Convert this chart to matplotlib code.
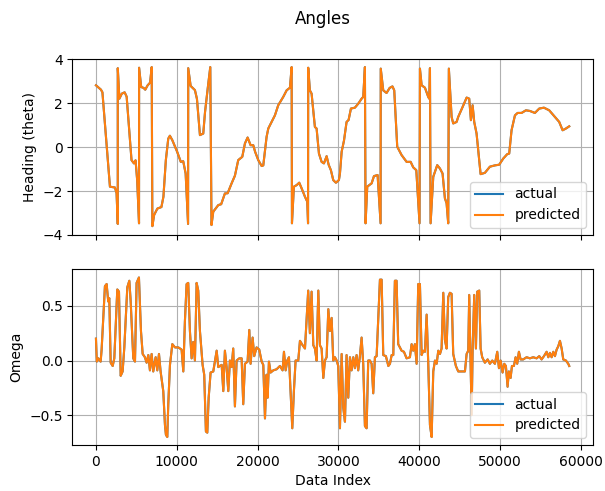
import matplotlib
matplotlib.use('Agg')
import matplotlib.pyplot as plt
import numpy as np

# heading (theta), data index -> radians
heading_idx = [0, 300, 620, 800, 1730, 2350, 2550, 2700, 2700, 2900, 3200, 3550, 3800,
               4400, 4700, 4900, 5100, 5330, 5340, 5600, 5900, 6100, 6400, 6700, 6900,
               6980, 7200, 7600, 8100, 8350, 8650, 8950, 9150, 9450, 10050, 10500, 10800,
               11100, 11400, 11420, 11720, 12250, 12500, 12870, 13280, 13500, 13900, 14150,
               14300, 14520, 15140, 15500, 15960, 16300, 16790, 17200, 17610, 18110, 18440,
               18770, 19140, 19470, 19700, 20090, 20510, 20710, 21120, 21330, 21740, 22150,
               22560, 23180, 23600, 24010, 24220, 24260, 24500, 24840, 25160, 25460, 25870,
               26150, 26250, 26270, 26480, 26690, 27100, 27310, 27600, 27930, 28220, 28550,
               28800, 29080, 29370, 29700, 30070, 30200, 30410, 30700, 31020, 31270, 31560,
               32050, 32460, 32880, 33080, 33290, 33370, 33580, 34120, 34410, 34860, 35230,
               35250, 35560, 35970, 36350, 36700, 36920, 37290, 37830, 38450, 38950, 39270,
               39650, 40050, 40100, 40310, 40720, 41130, 41250, 41340, 41420, 41750, 42240,
               42570, 42900, 43190, 43400, 43600, 43680, 44020, 44220, 44640, 44840, 45380,
               45880, 46200, 46410, 46620, 46820, 47110, 47320, 47610, 48140, 48760, 49380,
               49910, 50410, 50900, 51150, 51440, 51860, 52190, 52680, 53220, 53710, 54330,
               54870, 55450, 56100, 56810, 57340, 57760, 58170, 58580]
heading = [2.82, 2.72, 2.62, 2.5, -1.80, -1.84, -2.1, -3.5, 3.6, 2.21, 2.44, 2.5, 2.3,
           -0.59, -0.74, -0.6, -1.5, -3.47, 3.62, 2.74, 2.7, 2.62, 2.82, 2.94, 3.65,
           -3.6, -3.09, -2.8, -2.73, -2.26, -0.59, 0.39, 0.52, 0.32, -0.21, -0.67, -0.64,
           -1.2, -3.5, 3.6, 2.79, 2.6, 2.2, 0.55, 0.62, 1.6, 2.89, 3.65,
           -3.55, -2.94, -2.64, -2.6, -2.11, -2.1, -1.65, -1.3, -0.59, -0.44, 0.17,
           0.44, 0.09, 0.09, -0.21, -0.59, -0.86, -0.83, 0.47, 0.85, 1.15, 1.45,
           1.91, 2.29, 2.59, 2.71, 3.65, -3.47, -1.80, -1.73, -1.62, -1.88, -2.26,
           -2.48, -3.47, 3.62, 2.59, 2.44, 0.92, 0.85, -0.29, -0.67, -0.74, -0.41,
           -0.8, -1.05, -1.5, -1.62, -1.5, -1.2, -0.21, 0.3, 1.15, 1.24, 1.76,
           1.8, 1.98, 2.21, 2.29, 3.65, -3.47, -1.80, -1.65, -1.32, -1.27, -3.47,
           3.58, 2.59, 2.47, 2.7, 2.77, 2.59, 0.02, -0.36, -0.67, -0.67, -0.92,
           -1.05, -3.47, 3.58, 2.82, 2.71, 2.29, 2.21, 3.6, -3.47, -1.35, -0.82,
           -0.97, -1.20, -2.33, -2.56, -3.47, 3.58, 1.38, 1.08, 1.15, 1.38, 1.83,
           2.26, 2.21, 1.23, 1.91, 1.15, 0.62, -0.14, -1.23, -1.17, -0.89, -0.83,
           -0.80, -0.52, -0.32, -0.29, 0.77, 1.45, 1.56, 1.56, 1.68, 1.65, 1.56,
           1.76, 1.80, 1.68, 1.38, 1.15, 0.77, 0.85, 0.95]

# omega
omega_idx = [0, 100, 290, 580, 700, 1110, 1320, 1520, 1650, 1820, 2070, 2270, 2640, 2850,
             3060, 3300, 3510, 3880, 4130, 4290, 4620, 4830, 5030, 5320, 5570, 5780, 6060,
             6270, 6480, 6680, 6890, 7090, 7390, 7590, 7800, 8000, 8330, 8540, 8660, 8830,
             8950, 9160, 9450, 9780, 10190, 10600, 10810, 11010, 11220, 11420, 11630, 11840,
             12040, 12250, 12460, 12660, 12870, 13200, 13400, 13610, 13780, 13950, 14190,
             14520, 14940, 15140, 15560, 15760, 15960, 16170, 16380, 16580, 16790, 16990,
             17200, 17410, 17740, 18030, 18230, 18440, 18770, 18980, 19140, 19390, 19590,
             19880, 20210, 20510, 20710, 20920, 21120, 21250, 21410, 21620, 21950, 22360,
             22770, 23100, 23270, 23480, 23680, 23890, 24300, 24500, 24710, 25040, 25250,
             25580, 25870, 26270, 26480, 26690, 26900, 27100, 27310, 27520, 27720, 27930,
             28140, 28340, 28550, 28760, 28960, 29170, 29370, 29580, 29790, 29990, 30200,
             30410, 30610, 30820, 31020, 31230, 31440, 31640, 31850, 32050, 32260, 32460,
             32670, 32880, 33080, 33290, 33500, 33700, 33910, 34120, 34320, 34530, 34740,
             35150, 35360, 35560, 35890, 36190, 36390, 36600, 36800, 37000, 37210, 37410,
             37620, 37830, 38120, 38450, 38860, 39070, 39270, 39480, 39690, 39890, 40100,
             40310, 40510, 40720, 40930, 41130, 41340, 41550, 41750, 41960, 42170, 42370,
             42580, 42780, 42990, 43190, 43400, 43600, 43810, 44020, 44220, 44550, 44840,
             45260, 45670, 45880, 46080, 46200, 46500, 46620, 46820, 47030, 47190, 47440,
             47610, 47810, 48140, 48480, 48760, 49050, 49380, 49670, 49880, 50090, 50330,
             50540, 50740, 50950, 51110, 51320, 51490, 51730, 51940, 52140, 52350, 52560,
             52880, 53300, 53710, 54120, 54540, 54870, 55160, 55450, 55780, 55990, 56190,
             56400, 56610, 56810, 57020, 57220, 57430, 57640, 57840, 58170, 58460, 58580]
omega = [0.20, -0.01, 0.02, -0.01, 0.10, 0.68, 0.70, 0.54, 0.57, -0.02, -0.05, 0.02, 0.65, 0.63,
         -0.14, -0.10, 0.12, 0.67, 0.73, 0.55, 0.02, -0.01, 0.71, 0.76, 0.27, 0.06, 0.03,
         -0.02, 0.05, -0.09, 0.06, -0.10, 0.03, -0.09, 0.06, -0.10, -0.28, -0.59, -0.68, -0.70,
         -0.40, -0.04, 0.15, 0.12, 0.12, 0.10, -0.10, 0.36, 0.70, 0.71, 0.27, 0.02,
         0.17, 0.0, 0.71, 0.64, 0.27, -0.04, -0.13, -0.65, -0.66, -0.34, -0.11,
         -0.10, 0.09, -0.06, -0.04, -0.28, 0.09, -0.06, -0.28, 0.0, -0.06, 0.11,
         -0.42, 0.0, 0.02, 0.02, -0.40, -0.03, -0.01, 0.28, -0.03, 0.21, 0.04,
         0.12, 0.10, -0.01, -0.04, -0.53, -0.13, -0.34, -0.01, -0.11, -0.09, -0.08,
         -0.05, -0.09, 0.08, -0.09, 0.0, 0.03, -0.62, -0.28, 0.0, 0.0, 0.18,
         0.14, 0.11, 0.64, 0.25, 0.63, 0.14, 0.11, 0.0, 0.64, 0.14, 0.11,
         -0.16, 0.0, 0.03, 0.47, 0.27, 0.39, 0.0, 0.03, 0.0, -0.05, -0.62,
         0.06, -0.43, -0.56, 0.05, -0.34, 0.03, -0.09, 0.03, -0.07, 0.05, -0.09,
         0.04, 0.21, -0.03, -0.60, -0.62, 0.0, 0.0, -0.03, -0.30, 0.03, 0.04,
         0.74, 0.74, 0.05, 0.04, -0.05, -0.03, 0.05, 0.05, 0.73, 0.73, 0.15,
         0.12, 0.09, 0.08, 0.02, 0.03, 0.15, 0.09, 0.15, -0.03, 0.70, 0.70,
         0.05, 0.09, 0.08, 0.42, -0.03, -0.59, -0.70, -0.10, 0.0, -0.03, 0.09,
         0.06, 0.11, 0.62, 0.19, 0.11, 0.58, 0.62, 0.61, 0.06, -0.05, -0.10,
         -0.10, -0.10, 0.06, 0.09, 0.60, -0.50, 0.09, 0.60, 0.11, 0.63, 0.64,
         0.11, 0.03, -0.02, 0.01, -0.03, 0.0, -0.03, 0.08, -0.07, 0.0, -0.11,
         -0.03, -0.05, -0.24, -0.10, -0.16, -0.05, -0.05, 0.03, -0.03, 0.08, 0.01,
         0.01, 0.03, 0.02, 0.03, 0.02, 0.04, 0.01, 0.04, 0.08, 0.03, 0.07,
         0.03, 0.08, 0.04, 0.10, 0.13, 0.18, 0.11, 0.01, 0.0, -0.03, -0.05]

fig, (ax1, ax2) = plt.subplots(2, 1, sharex=True, figsize=(6.05, 4.91), dpi=100)
fig.subplots_adjust(left=0.1195, right=0.980, top=0.879, bottom=0.0937, hspace=0.197)
fig.suptitle('Angles', x=0.533)

# actual and predicted overlap, predicted drawn on top
ax1.plot(heading_idx, heading, label='actual')
ax1.plot(heading_idx, heading, label='predicted')
ax1.set_ylabel('Heading (theta)')
ax1.set_ylim(-4, 4)
ax1.grid(True)
ax1.legend(loc='lower right')

ax2.plot(omega_idx, omega, label='actual')
ax2.plot(omega_idx, omega, label='predicted')
ax2.set_ylabel('Omega')
ax2.set_xlabel('Data Index')
ax2.grid(True)
ax2.legend(loc='lower right')

fig.savefig('out.png')
